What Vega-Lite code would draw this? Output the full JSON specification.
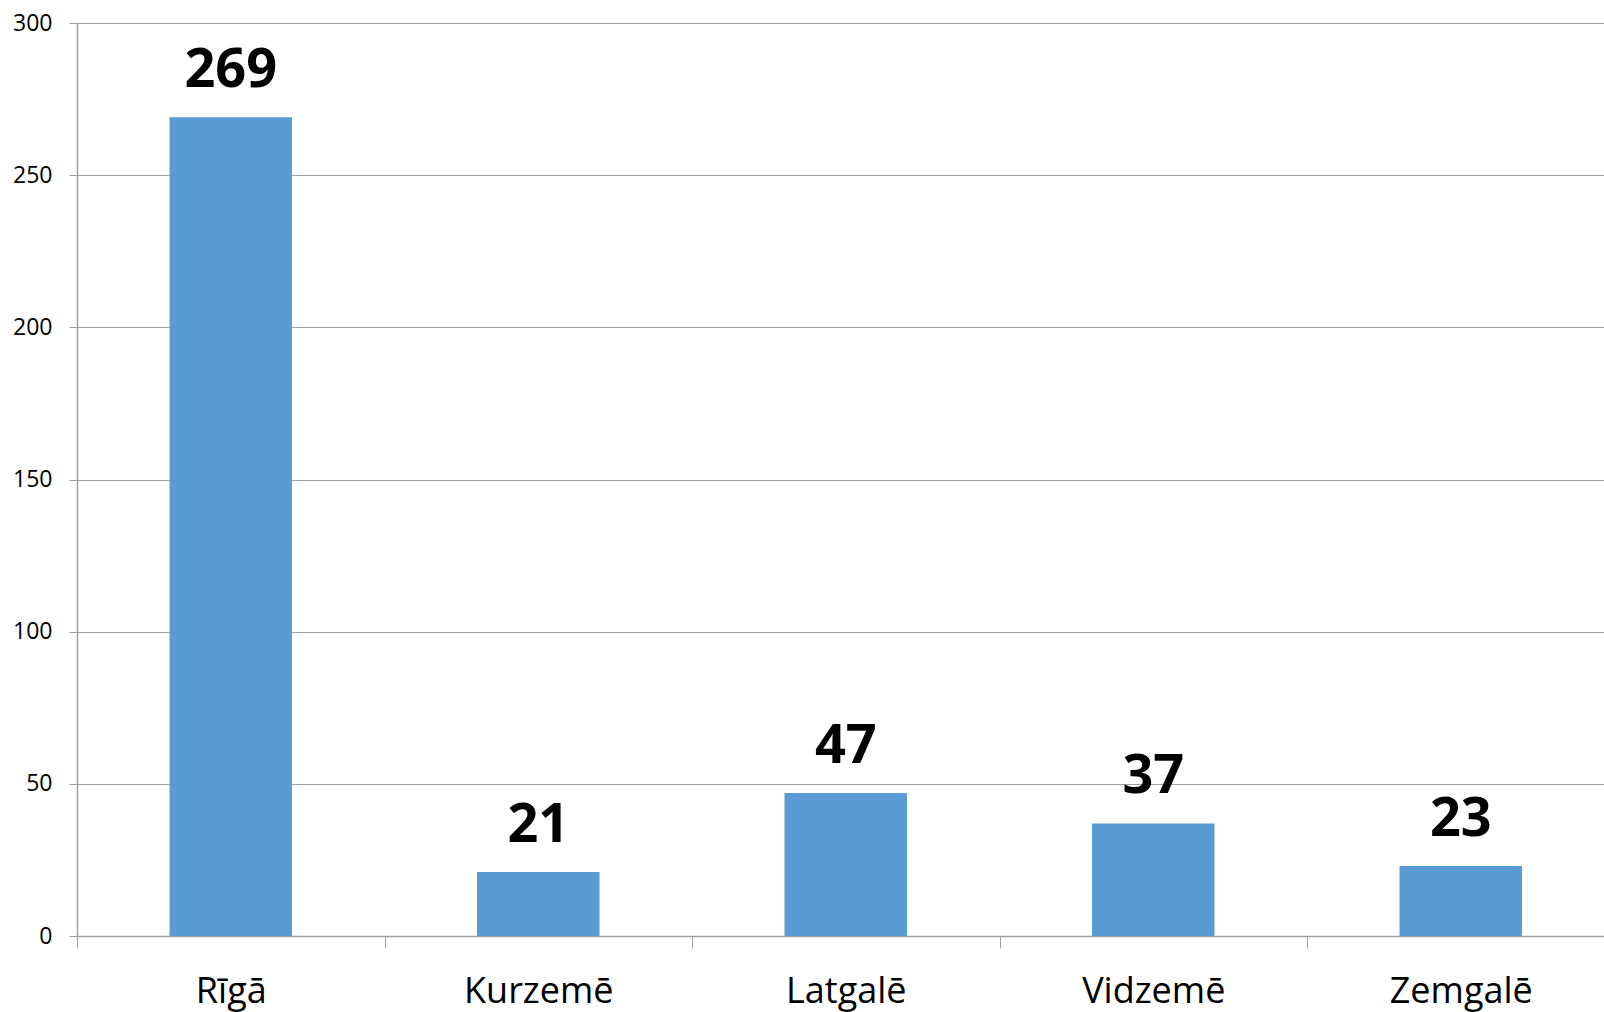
{
  "$schema": "https://vega.github.io/schema/vega-lite/v6.json",
  "width": 1527,
  "height": 913,
  "autosize": {"type": "none"},
  "padding": {"left": 77, "top": 23, "right": 0, "bottom": 76},
  "background": "white",
  "config": {"view": {"stroke": null}},
  "data": {
    "values": [
      {"region": "Rīgā", "count": 269},
      {"region": "Kurzemē", "count": 21},
      {"region": "Latgalē", "count": 47},
      {"region": "Vidzemē", "count": 37},
      {"region": "Zemgalē", "count": 23}
    ]
  },
  "encoding": {
    "x": {
      "field": "region",
      "type": "nominal",
      "sort": null,
      "scale": {"range": [0, 1537.5], "paddingInner": 0.6016, "paddingOuter": 0.3008},
      "axis": {
        "title": null,
        "labelAngle": 0,
        "labelFont": "Open Sans",
        "labelFontSize": 36,
        "labelColor": "#000000",
        "labelBaseline": "alphabetic",
        "labelPadding": 54,
        "tickOffset": -153.75,
        "labelOffset": 153.75,
        "tickSize": 12,
        "tickColor": "#A0A0A0",
        "domainColor": "#A0A0A0",
        "domainWidth": 1.5,
        "grid": false
      }
    },
    "y": {
      "field": "count",
      "type": "quantitative",
      "scale": {"domain": [0, 300], "nice": false},
      "axis": {
        "title": null,
        "values": [0, 50, 100, 150, 200, 250, 300],
        "labelFont": "Open Sans",
        "labelFontSize": 23,
        "labelColor": "#000000",
        "labelPadding": 17,
        "tickSize": 8,
        "tickColor": "#A0A0A0",
        "domainColor": "#A0A0A0",
        "domainWidth": 1.5,
        "grid": true,
        "gridColor": "#A0A0A0",
        "gridWidth": 1.2
      }
    }
  },
  "layer": [
    {"mark": {"type": "bar", "color": "#5B9BD5"}},
    {
      "mark": {
        "type": "text",
        "font": "Open Sans",
        "fontSize": 54,
        "fontWeight": "bold",
        "color": "#000000",
        "baseline": "alphabetic",
        "dy": -30
      },
      "encoding": {"text": {"field": "count", "type": "quantitative"}}
    }
  ]
}
